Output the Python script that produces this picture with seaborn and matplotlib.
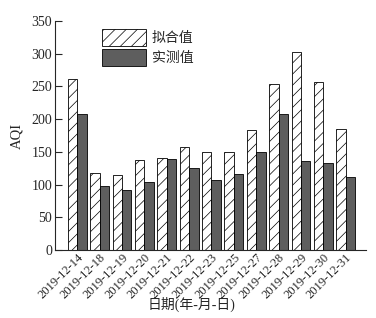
import pandas as pd
import numpy as np
import matplotlib
matplotlib.use('Agg')
import matplotlib.pyplot as plt
import seaborn as sns

dates = ['2019-12-14', '2019-12-18', '2019-12-19', '2019-12-20', '2019-12-21',
         '2019-12-22', '2019-12-23', '2019-12-25', '2019-12-27', '2019-12-28',
         '2019-12-29', '2019-12-30', '2019-12-31']
fitted = [262, 117, 114, 137, 140, 157, 149, 149, 183, 253, 302, 257, 185]
measured = [208, 98, 91, 104, 139, 126, 107, 116, 149, 208, 136, 133, 112]
series = ['拟合值', '实测值']
yticks = [0, 50, 100, 150, 200, 250, 300, 350]

sns.set_style("ticks")
plt.rcParams['font.family'] = ['Liberation Serif', 'Noto Sans CJK SC']
plt.rcParams['hatch.linewidth'] = 0.5
plt.rcParams['hatch.color'] = '#666666'

df = pd.DataFrame({
    'date': dates * 2,
    'AQI': fitted + measured,
    'type': [series[0]] * len(dates) + [series[1]] * len(dates),
})

fig = plt.figure(figsize=(3.76, 3.18), dpi=100)
ax = fig.add_axes([0.146, 0.214, 0.827, 0.72])

sns.barplot(data=df, x='date', y='AQI', hue='type', palette=['white', '#5e5e5e'],
            edgecolor='black', linewidth=0.6, width=0.84, ax=ax, legend=False)

# hatch the fitted bars
for p in ax.containers[0]:
    p.set_hatch('///')

ax.set_ylim(0, 350)
ax.set_xlim(-1.0, 12.9)
ax.set_yticks(yticks)
ax.tick_params(axis='y', direction='in', length=5, width=0.8, labelsize=10, pad=2)
ax.tick_params(axis='x', length=0, labelsize=9, pad=1)
plt.setp(ax.get_xticklabels(), rotation=45, ha='right', rotation_mode='anchor')
for s in ['top', 'right']:
    ax.spines[s].set_visible(False)
for s in ['left', 'bottom']:
    ax.spines[s].set_linewidth(0.8)

ax.set_ylabel('AQI', fontsize=10.5, labelpad=6)
ax.set_xlabel('日期(年-月-日)', fontsize=10)
ax.xaxis.set_label_coords(0.44, -0.205)

ax.legend([ax.containers[0][0], ax.containers[1][0]], series, loc='upper left',
          bbox_to_anchor=(0.11, 1.02), frameon=False, fontsize=10,
          handlelength=3.2, handleheight=1.5, handletextpad=0.4, labelspacing=0.2)

plt.savefig('out.png', dpi=100)
